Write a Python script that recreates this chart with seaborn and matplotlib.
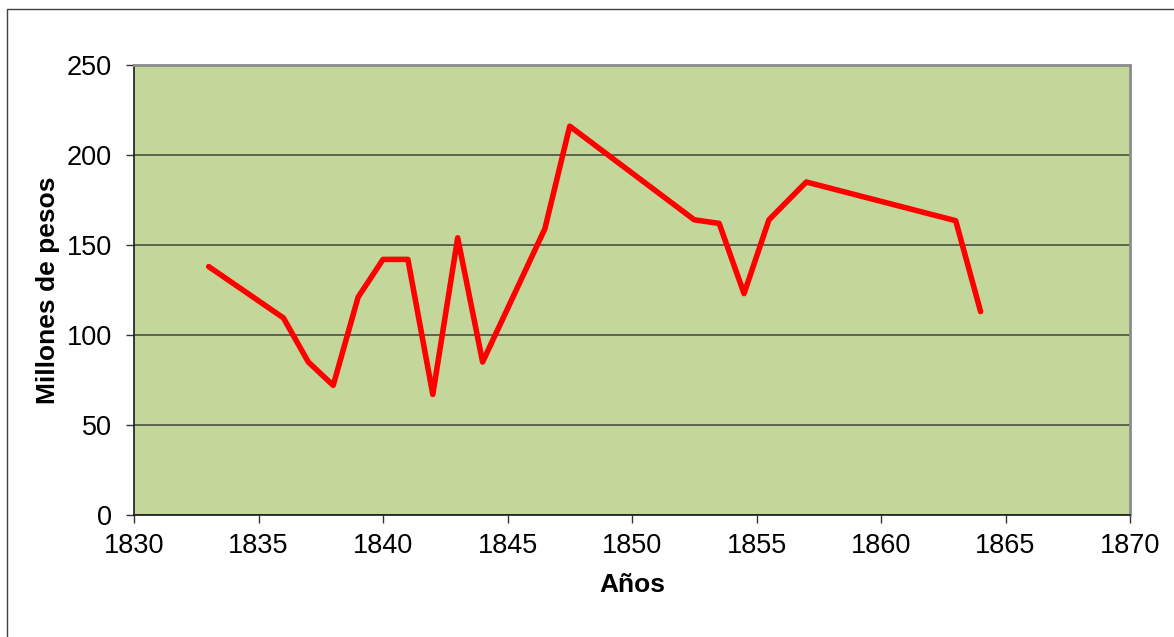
import matplotlib
matplotlib.use("Agg")
import matplotlib.pyplot as plt
import seaborn as sns
import pandas as pd
from matplotlib.patches import Rectangle

years = [1833, 1836, 1837, 1838, 1839, 1840, 1841, 1842, 1843, 1844,
         1846.5, 1847.5, 1852.5, 1853.5, 1854.5, 1855.5, 1857, 1863, 1864]
values = [138, 109.5, 85, 72, 121, 142, 142, 67, 154, 85,
          159, 216, 164, 162, 123, 164, 185, 163.5, 113]
x_ticks = [1830, 1835, 1840, 1845, 1850, 1855, 1860, 1865, 1870]
y_ticks = [0, 50, 100, 150, 200, 250]

sns.set_style("white")
plt.rcParams['font.family'] = ['Liberation Sans', 'DejaVu Sans']

df = pd.DataFrame({"Años": years, "Millones de pesos": values})

fig = plt.figure(figsize=(11.74, 6.37), dpi=100)
ax = fig.add_axes([134/1174, 1 - 515/637, (1130-134)/1174, (515-65)/637])

# outer chart border
fig.patches.append(Rectangle((7/1174, -0.5), 2.0, 0.5 + (637-8.5)/637,
                             transform=fig.transFigure, fill=False,
                             edgecolor="#404040", linewidth=1.0, zorder=0))

ax.set_facecolor("#c4d79b")
sns.lineplot(data=df, x="Años", y="Millones de pesos", ax=ax,
             color="#ff0000", linewidth=4.0, sort=False, zorder=3,
             solid_capstyle="round", solid_joinstyle="round")

ax.set_xlim(1830, 1870)
ax.set_ylim(0, 250)
ax.set_xticks(x_ticks)
ax.set_yticks(y_ticks)
ax.yaxis.grid(True, color="#55594a", linewidth=1.3)
ax.xaxis.grid(False)
ax.set_axisbelow(True)

for s in ["top", "right"]:
    ax.spines[s].set_color("#8c8c8c")
    ax.spines[s].set_linewidth(2.0)
for s in ["left", "bottom"]:
    ax.spines[s].set_color("#1a1a1a")
    ax.spines[s].set_linewidth(1.2)

ax.tick_params(axis="both", which="major", direction="out", length=6,
               width=1.0, color="#333333", labelsize=19.5, labelcolor="black",
               bottom=True, left=True)
ax.tick_params(axis="x", pad=7)
ax.tick_params(axis="y", pad=10)

ax.set_xlabel("Años", fontsize=19, fontweight="bold", labelpad=10, color="black")
ax.set_ylabel("Millones de pesos", fontsize=19, fontweight="bold", labelpad=5,
              color="black")

fig.savefig("out.png", dpi=100, facecolor="white")
